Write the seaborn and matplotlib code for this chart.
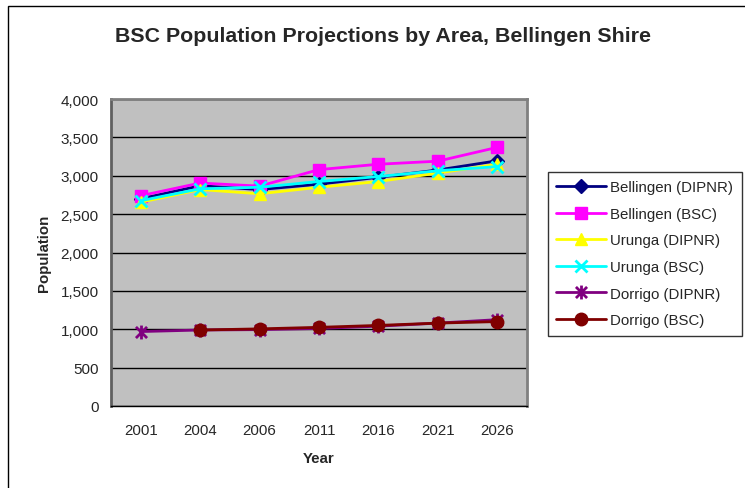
import matplotlib
matplotlib.use("Agg")
import matplotlib.pyplot as plt
from matplotlib.patches import Rectangle
from matplotlib.path import Path
import numpy as np
import seaborn as sns

sns.set_style("white")
plt.rcParams['font.family'] = ['Liberation Sans', 'DejaVu Sans']

# Projection years (evenly spaced categories on the x axis)
years = ["2001", "2004", "2006", "2011", "2016", "2021", "2026"]

# Population projections per area and source
bellingen_dipnr = [2700, 2870, 2820, 2890, 2980, 3075, 3195]
bellingen_bsc = [2740, 2905, 2865, 3080, 3150, 3190, 3370]
urunga_dipnr = [2655, 2820, 2765, 2850, 2925, 3035, 3150]
urunga_bsc = [2675, 2830, 2850, 2925, 2990, 3065, 3120]
dorrigo_dipnr = [970, 990, 995, 1010, 1040, 1080, 1125]
dorrigo_bsc = [np.nan, 990, 1005, 1025, 1050, 1080, 1100]

# Asterisk marker: an "x" crossed by a vertical bar
asterisk = Path(
    [(-1, -1), (1, 1), (-1, 1), (1, -1), (0, -1.25), (0, 1.25)],
    [Path.MOVETO, Path.LINETO, Path.MOVETO, Path.LINETO, Path.MOVETO, Path.LINETO],
)

series = [
    ("Bellingen (DIPNR)", bellingen_dipnr, "#000080", "D", 7, 1),
    ("Bellingen (BSC)", bellingen_bsc, "#FF00FF", "s", 9, 1),
    ("Urunga (DIPNR)", urunga_dipnr, "#FFFF00", "^", 9, 1),
    ("Urunga (BSC)", urunga_bsc, "#00FFFF", "x", 9, 2),
    ("Dorrigo (DIPNR)", dorrigo_dipnr, "#800080", asterisk, 10, 2),
    ("Dorrigo (BSC)", dorrigo_bsc, "#800000", "o", 9, 1),
]

fig = plt.figure(figsize=(7.45, 4.89), dpi=100)
ax = fig.add_axes([111 / 745, 1 - 407 / 489, (527 - 111) / 745, (407 - 100) / 489])

# Outer chart frame
fig.patches.append(Rectangle((8 / 745, -0.05), 1.1, 1 - 7 / 489 + 0.05,
                             transform=fig.transFigure, fill=False,
                             edgecolor="black", linewidth=1.0, zorder=0))

positions = np.arange(len(years))
for label, values, color, marker, ms, mew in series:
    sns.lineplot(x=positions, y=values, ax=ax, color=color, marker=marker,
                 markersize=ms, markeredgecolor=color, markeredgewidth=mew,
                 linewidth=2, label=label, legend=False)

ax.set_facecolor("#C0C0C0")
ax.set_xlim(-0.5, len(years) - 0.5)
ax.set_ylim(0, 4000)
ax.set_yticks(np.arange(0, 4001, 500))
ax.set_yticklabels([f"{v:,}" for v in range(0, 4001, 500)])
ax.yaxis.grid(True, color="black", linewidth=1)
ax.set_axisbelow(True)

ax.set_xticks(positions)
ax.set_xticklabels(years)
ax.set_xticks(np.arange(-0.5, len(years)), minor=True)
ax.tick_params(axis="x", which="major", length=0, pad=12, labelsize=10.8)
ax.tick_params(axis="x", which="minor", length=6, width=1, color="black", direction="out")
ax.tick_params(axis="y", length=6, width=1, color="black", direction="out", labelsize=11, pad=3)

for side in ("top", "right"):
    ax.spines[side].set_color("#808080")
    ax.spines[side].set_linewidth(2)
ax.spines["left"].set_color("#606060")
ax.spines["left"].set_linewidth(2)
ax.spines["bottom"].set_color("black")
ax.spines["bottom"].set_linewidth(1)

ax.set_xlabel("Year", fontsize=10.8, fontweight="bold", labelpad=10)
ax.set_ylabel("Population", fontsize=10.8, fontweight="bold", labelpad=7)

fig.text(383 / 745, 1 - 37 / 489, "BSC Population Projections by Area, Bellingen Shire",
         ha="center", va="center", fontsize=15.4, fontweight="bold")

handles, labels = ax.get_legend_handles_labels()
leg = fig.legend(handles, labels, loc="upper left", bbox_to_anchor=(548 / 745, 1 - 173 / 489),
                 frameon=True, fancybox=False, edgecolor="black", fontsize=10.8,
                 handlelength=3.3, handletextpad=0.3, labelspacing=0.84,
                 borderaxespad=0, borderpad=0.55)
leg.get_frame().set_linewidth(1)

fig.savefig("out.png", dpi=100, facecolor="white")
